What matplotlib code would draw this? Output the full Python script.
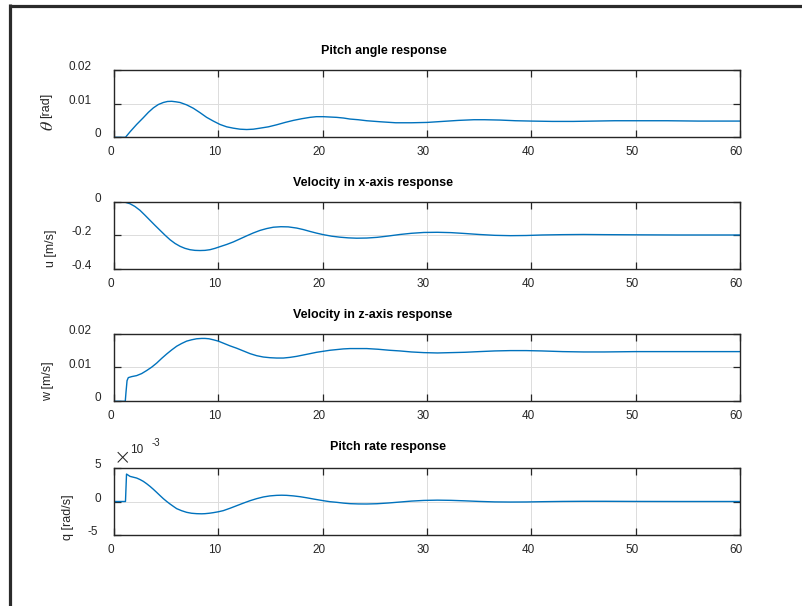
import numpy as np
import matplotlib
matplotlib.use("Agg")
import matplotlib.pyplot as plt
import matplotlib.transforms as mtransforms
from matplotlib.lines import Line2D

plt.rcParams['font.family'] = ['Liberation Sans', 'DejaVu Sans']
plt.rcParams['mathtext.fontset'] = 'stix'
plt.rcParams['font.size'] = 8

# ---------------- data ----------------
t_theta = [0, 1.1, 1.53, 2.17, 2.81, 3.3, 3.77, 4.25, 4.73, 5.13, 5.53, 5.93, 6.33,
           6.96, 7.60, 8.24, 8.88, 9.52, 10.16, 10.8, 11.44, 12.08, 12.72, 13.35, 13.99,
           14.8, 15.59, 16.4, 17.19, 18.0, 18.79, 19.4, 20.06, 20.7, 21.34, 22.0, 22.62,
           23.4, 24.22, 25.5, 27.0, 28.5, 30.0, 31.5, 33.0, 34.5, 35.5, 37.0, 38.5, 40.0,
           42.0, 44.0, 46.0, 48.0, 50.0, 53.0, 56.0, 60.0]
theta = [0, 0, 0.0016, 0.0038, 0.0058, 0.0074, 0.0087, 0.0097, 0.0103, 0.0106, 0.01065,
         0.0105, 0.0103, 0.0096, 0.0086, 0.0073, 0.0059, 0.0048, 0.0038, 0.0031, 0.0027,
         0.0024, 0.0023, 0.0024, 0.0027, 0.0031, 0.0037, 0.0044, 0.0050, 0.0055, 0.0059,
         0.0061, 0.0061, 0.0060, 0.0059, 0.0057, 0.0054, 0.0052, 0.0049, 0.0046, 0.0043,
         0.0043, 0.0044, 0.0047, 0.0050, 0.0052, 0.0052, 0.0051, 0.0049, 0.0048, 0.0047,
         0.0047, 0.0048, 0.0049, 0.0049, 0.0049, 0.0048, 0.0048]

t_u = [0, 0.9, 1.53, 2.0, 2.49, 2.97, 3.45, 3.93, 4.41, 4.89, 5.37, 5.85, 6.33, 6.8, 7.28,
       7.76, 8.24, 8.72, 9.20, 9.68, 10.16, 10.8, 11.44, 12.08, 12.72, 13.35, 13.99, 14.63,
       15.27, 16.0, 16.7, 17.51, 18.15, 18.79, 19.42, 20.06, 20.86, 21.66, 22.46, 23.26,
       24.22, 25.2, 26.3, 27.4, 28.5, 29.7, 31.0, 32.3, 33.6, 35.0, 36.5, 38.0, 39.5, 41.0,
       43.0, 45.0, 47.0, 50.0, 54.0, 60.0]
u = [0, 0, -0.012, -0.028, -0.051, -0.080, -0.110, -0.140, -0.169, -0.198, -0.225, -0.247,
     -0.264, -0.276, -0.284, -0.288, -0.289, -0.288, -0.284, -0.276, -0.266, -0.253, -0.238,
     -0.220, -0.202, -0.185, -0.170, -0.159, -0.151, -0.148, -0.149, -0.156, -0.165, -0.176,
     -0.186, -0.195, -0.204, -0.210, -0.214, -0.216, -0.215, -0.211, -0.203, -0.194, -0.187,
     -0.182, -0.181, -0.183, -0.188, -0.194, -0.199, -0.201, -0.200, -0.197, -0.195, -0.194,
     -0.195, -0.196, -0.197, -0.197]

t_w = [0, 1.08, 1.15, 1.25, 1.37, 1.69, 2.17, 2.65, 3.13, 3.61, 4.09, 4.57, 5.05, 5.53,
       6.01, 6.48, 6.96, 7.44, 7.92, 8.4, 8.72, 9.1, 9.52, 10.0, 10.48, 11.12, 11.76, 12.4,
       13.04, 13.67, 14.31, 14.95, 15.59, 16.23, 16.87, 17.51, 18.15, 18.79, 19.42, 20.06,
       20.70, 21.34, 21.98, 22.62, 23.26, 24.22, 25.3, 26.4, 27.4, 28.5, 29.7, 31.0, 32.3,
       33.6, 35.0, 36.5, 38.0, 39.5, 41.0, 43.0, 45.0, 47.0, 50.0, 54.0, 60.0]
w = [0, 0, 0.0027, 0.0061, 0.0070, 0.0073, 0.0076, 0.0082, 0.0091, 0.0101, 0.0113, 0.0127,
     0.0140, 0.0152, 0.0163, 0.0171, 0.0178, 0.0182, 0.0185, 0.0186, 0.0186, 0.0185, 0.0182,
     0.0178, 0.0172, 0.0164, 0.0157, 0.0149, 0.0141, 0.0135, 0.0131, 0.0129, 0.0128, 0.0128,
     0.0130, 0.0133, 0.0137, 0.0141, 0.0145, 0.0148, 0.0151, 0.0153, 0.0155, 0.0156, 0.0156,
     0.0156, 0.0154, 0.0151, 0.0149, 0.0146, 0.0144, 0.0143, 0.0144, 0.0145, 0.0147, 0.0149,
     0.0150, 0.0150, 0.0149, 0.0147, 0.0146, 0.0146, 0.0147, 0.0147, 0.0147]

t_q = [0, 1.1, 1.2, 1.53, 2.17, 2.49, 2.81, 3.13, 3.45, 3.77, 4.09, 4.41, 4.73, 5.05, 5.37,
       5.69, 6.01, 6.48, 6.96, 7.44, 7.92, 8.4, 8.72, 9.12, 9.52, 10.0, 10.48, 11.12, 11.76,
       12.4, 13.04, 13.67, 14.31, 14.95, 15.59, 16.07, 16.55, 17.19, 17.83, 18.47, 19.11,
       20.06, 20.7, 21.34, 22.0, 22.62, 23.4, 24.22, 25.2, 26.3, 27.4, 28.5, 29.7, 31.0,
       32.3, 33.6, 35.0, 36.5, 38.0, 39.5, 41.0, 43.0, 45.0, 47.0, 50.0, 54.0, 60.0]
q = [0, 0, 0.00406, 0.00372, 0.00347, 0.00325, 0.00298, 0.00263, 0.00224, 0.00181, 0.00135,
     0.00088, 0.00042, 0.00001, -0.00037, -0.00072, -0.00106, -0.00136, -0.00160, -0.00174,
     -0.00180, -0.00182, -0.00180, -0.00174, -0.00165, -0.00152, -0.00135, -0.00100,
     -0.00062, -0.00024, 0.00012, 0.00042, 0.00067, 0.00083, 0.00091, 0.00093, 0.00091,
     0.00083, 0.00071, 0.00055, 0.00037, 0.00012, -0.00003, -0.00012, -0.00024, -0.00032,
     -0.00036, -0.00037, -0.00033, -0.00022, -0.00008, 0.00006, 0.00016, 0.00020, 0.00017,
     0.00010, 0.00001, -0.00006, -0.00008, -0.00007, -0.00003, 0.00001, 0.00003, 0.00003,
     0.00001, 0.0, 0.0]

titles = ["Pitch angle response", "Velocity in x-axis response",
          "Velocity in z-axis response", "Pitch rate response"]
ylabels = ["[rad]", "u [m/s]", "w [m/s]", "q [rad/s]"]
x_ticks = [0, 10, 20, 30, 40, 50, 60]
y_ticks = [[0, 0.01, 0.02], [-0.4, -0.2, 0], [0, 0.01, 0.02], [-0.005, 0, 0.005]]
y_ticklabels = [["0", "0.01", "0.02"], ["-0.4", "-0.2", "0"],
                ["0", "0.01", "0.02"], ["-5", "0", "5"]]
y_lims = [(0, 0.02), (-0.4, 0), (0, 0.02), (-0.005, 0.005)]

series = [(t_theta, theta), (t_u, u), (t_w, w), (t_q, q)]

# ---------------- layout ----------------
FW, FH = 803, 606
fig = plt.figure(figsize=(FW / 100, FH / 100), dpi=100)
fig.patch.set_facecolor('white')

ax_left, ax_right = 114, 740
ax_tops = [69.7, 201.7, 333.7, 467.7]
ax_h = 67.6
title_pos = [(384, 51), (373, 183), (373, 315), (388, 447)]
ylabel_pos = [(45.7, 105), (51, 248), (47.7, 381), (68.3, 517.5)]

txt_col = '#262626'
line_col = '#0072BD'

for i, ((tx, ty), title, yl) in enumerate(zip(series, titles, ylabels)):
    top = ax_tops[i]
    rect = [ax_left / FW, 1 - (top + ax_h) / FH, (ax_right - ax_left) / FW, ax_h / FH]
    ax = fig.add_axes(rect)
    ax.plot(tx, ty, color=line_col, lw=1.0)
    ax.set_xlim(0, 60)
    ax.set_ylim(*y_lims[i])
    ax.set_xticks(x_ticks)
    ax.set_xticklabels([str(v) for v in x_ticks])
    ax.set_yticks(y_ticks[i])
    ax.set_yticklabels(y_ticklabels[i])
    ax.grid(True, color='#dcdcdc', lw=0.7)
    ax.set_axisbelow(True)
    ax.tick_params(direction='in', length=5, width=0.9, color=txt_col,
                   top=True, right=True, labelsize=8.5, labelcolor=txt_col)
    ax.tick_params(axis='x', pad=6.5)
    ax.tick_params(axis='y', pad=9.4)
    for sp in ax.spines.values():
        sp.set_color(txt_col)
        sp.set_linewidth(1.0)
    # small offsets of tick labels to mimic the reference rendering
    for lab in ax.get_yticklabels():
        n = len(lab.get_text())
        off = mtransforms.ScaledTranslation(-3.0 * (n - 1) / 100, 4.5 / 100, fig.dpi_scale_trans)
        lab.set_transform(lab.get_transform() + off)
    for lab in ax.get_xticklabels():
        off = mtransforms.ScaledTranslation(-3.5 / 100, 0, fig.dpi_scale_trans)
        lab.set_transform(lab.get_transform() + off)

    ax.set_ylabel(yl, fontsize=9, color=txt_col)
    ax.yaxis.label.set_va('center')
    ax.yaxis.label.set_ha('center')
    lx, ly = ylabel_pos[i]
    ax.yaxis.set_label_coords((lx - ax_left) / (ax_right - ax_left), (top + ax_h - ly) / ax_h)

    cx, cy = title_pos[i]
    fig.text(cx / FW, 1 - cy / FH, title, ha='center', va='center',
             fontsize=9, fontweight='bold', color='black')

# theta symbol of first y label
fig.text(48.5 / FW, 1 - 126 / FH, r'$\theta$', rotation=90, ha='center', va='center',
         fontsize=13, color=txt_col)

# exponent marker of the pitch-rate axes
fig.text(122 / FW, 1 - 458 / FH, '\u00d7', ha='center', va='center', fontsize=15,
         color=txt_col, family='DejaVu Sans', fontweight='light')
fig.text(136.5 / FW, 1 - 450 / FH, '10', ha='center', va='center', fontsize=8.5, color=txt_col)
fig.text(156 / FW, 1 - 443 / FH, '-3', ha='center', va='center', fontsize=7, color=txt_col)

# window frame lines (top and left)
fig.add_artist(Line2D([8.5 / FW, 1.0], [1 - 5.5 / FH, 1 - 5.5 / FH], color='#2b2b2b',
                      lw=2.3, transform=fig.transFigure, solid_capstyle='butt'))
fig.add_artist(Line2D([10 / FW, 10 / FW], [1 - 4.3 / FH, 0.0], color='#2b2b2b',
                      lw=2.3, transform=fig.transFigure, solid_capstyle='butt'))

fig.savefig('out.png', dpi=100)
